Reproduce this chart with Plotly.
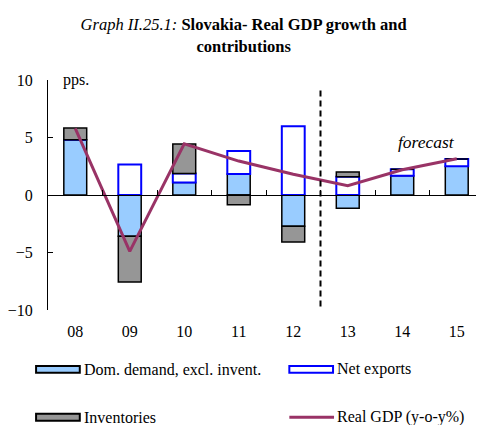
import plotly.graph_objects as go

years = ["08", "09", "10", "11", "12", "13", "14", "15"]
dom_demand = [4.8, -3.58, 1.09, 1.82, -2.71, -1.15, 1.68, 2.51]
net_exports = [0.0, 2.66, 0.79, 2.01, 5.98, 1.58, 0.57, 0.61]
inventories = [1.02, -3.98, 2.55, -0.84, -1.38, 0.43, 0.0, 0.0]
real_gdp = [5.8, -4.9, 4.45, 2.95, 1.8, 0.8, 2.2, 3.15]
forecast_from = "13"

FONT = "Liberation Serif, Times New Roman, serif"
OFF = 8                       # page body margin of the html page
W, H = 484 - OFF, 425 - OFF   # figure size that fits the visible window
ML, MR = 45 - OFF, 0
MT = 80 - OFF
MB = 425 - 310.5
PW, PH = W - ML - MR, H - MT - MB

xs = list(range(len(years)))
bw = 0.42

series = [
    dict(name="Dom. demand, excl. invent.", y=dom_demand, fill="#99CCFF", line="black", lw=1.5),
    dict(name="Net exports", y=net_exports, fill="white", line="#0000FF", lw=2),
    dict(name="Inventories", y=inventories, fill="#969696", line="black", lw=1.5),
]
gdp_name = "Real GDP (y-o-y%)"
gdp_color = "#993366"

fig = go.Figure()
for s in series:
    fig.add_trace(go.Bar(x=xs, y=s["y"], name=s["name"], width=bw, showlegend=False,
                         marker=dict(color=s["fill"], line=dict(color=s["line"], width=s["lw"]))))
fig.add_trace(go.Scatter(x=xs, y=real_gdp, name=gdp_name, mode="lines", showlegend=False,
                         line=dict(color=gdp_color, width=3)))
# invisible trace carrying the bottom label axis
fig.add_trace(go.Scatter(x=xs, y=[None] * len(xs), xaxis="x2", showlegend=False,
                         hoverinfo="skip", mode="lines"))

fidx = years.index(forecast_from) - 0.5
fig.add_shape(type="line", xref="x", yref="y", x0=fidx, x1=fidx, y0=-9.7, y1=9.1,
              line=dict(color="black", width=2, dash="6px,4px"))

fig.add_annotation(x=6.45, y=4.6, xref="x", yref="y", text="<i>forecast</i>",
                   showarrow=False, font=dict(family=FONT, size=17.5, color="black"))
fig.add_annotation(x=-0.27, y=10.0, xref="x", yref="y", text="pps.", xanchor="left",
                   yanchor="middle", showarrow=False,
                   font=dict(family=FONT, size=16, color="black"))

# custom legend (window pixel layout converted to paper coordinates)
def px(x):
    return (x - OFF - ML) / PW

def py(y):
    return (H - MB - (y - OFF)) / PH

col_x = [33, 288]
row_y = [370, 418]
sym_w, sym_h = 44, 7
legend_items = [
    (series[0], 0, 0),
    (series[1], 1, 0),
    (series[2], 0, 1),
    (None, 1, 1),
]
for s, c, r in legend_items:
    x0 = col_x[c]
    yc = row_y[r]
    if s is not None:
        fig.add_shape(type="rect", xref="paper", yref="paper",
                      x0=px(x0), x1=px(x0 + sym_w), y0=py(yc - sym_h / 2), y1=py(yc + sym_h / 2),
                      fillcolor=s["fill"], line=dict(color=s["line"], width=2))
        label = s["name"]
    else:
        fig.add_shape(type="line", xref="paper", yref="paper",
                      x0=px(x0), x1=px(x0 + sym_w + 1), y0=py(yc), y1=py(yc),
                      line=dict(color=gdp_color, width=3))
        label = gdp_name
    fig.add_annotation(x=px(x0 + sym_w + 2), y=py(yc), xref="paper", yref="paper",
                       text=label, xanchor="left", yanchor="middle", showarrow=False,
                       font=dict(family=FONT, size=16, color="black"))

boundaries = [i + 0.5 for i in range(len(years) - 1)]
fig.update_layout(
    width=W, height=H,
    margin=dict(l=ML, r=MR, t=MT, b=MB),
    paper_bgcolor="white", plot_bgcolor="white",
    barmode="relative",
    showlegend=False,
    font=dict(family=FONT, size=16, color="black"),
    title=dict(text="<i>Graph II.25.1:</i> <b>Slovakia- Real GDP growth and<br>contributions</b>",
               x=0.495, xanchor="center", y=0.947, yanchor="top",
               font=dict(family=FONT, size=16.5, color="black")),
    xaxis=dict(range=[-0.5, len(years) - 0.5], anchor="free", position=0.5,
               showline=True, linecolor="black", linewidth=1,
               ticks="inside", ticklen=5, tickcolor="black", tickvals=boundaries,
               showticklabels=False, showgrid=False, zeroline=False),
    xaxis2=dict(range=[-0.5, len(years) - 0.5], overlaying="x", anchor="y", side="bottom",
                tickvals=xs, ticktext=years, showline=False, ticks="", showgrid=False,
                zeroline=False, ticklabelstandoff=10,
                tickfont=dict(family=FONT, size=16, color="black")),
    yaxis=dict(range=[-10, 10], tickvals=[-10, -5, 0, 5, 10], showline=True,
               linecolor="black", linewidth=1, ticks="inside", ticklen=5,
               tickcolor="black", showgrid=False, zeroline=False,
               ticklabelstandoff=11, tickfont=dict(family=FONT, size=16, color="black")),
)

fig.write_html("out.html")
